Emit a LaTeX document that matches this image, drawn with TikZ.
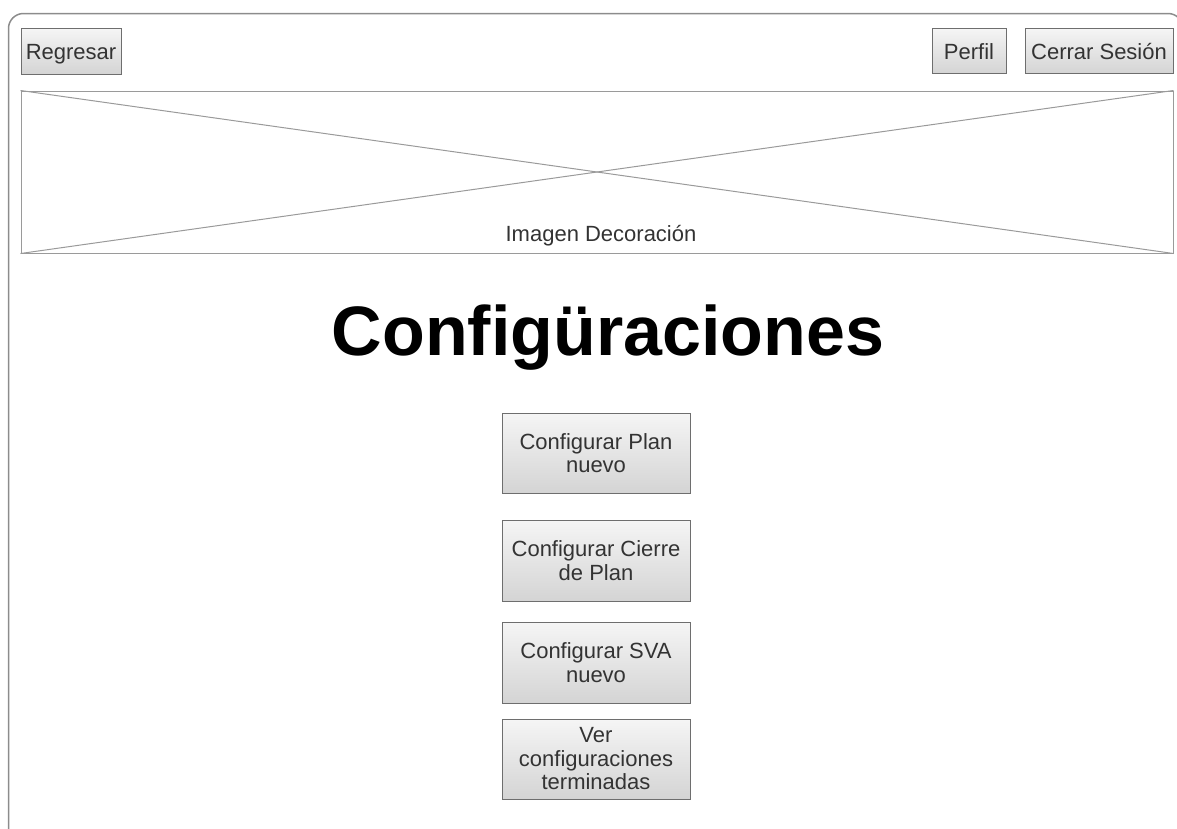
\documentclass[tikz,border=0pt]{standalone}
\usepackage{fontspec}
\setmainfont{Liberation Sans}
\definecolor{framegray}{HTML}{8C8C8C}
\definecolor{btnborder}{HTML}{6E6E6E}
\definecolor{btntext}{HTML}{333333}
\definecolor{diaggray}{HTML}{9A9A9A}
\definecolor{btntop}{HTML}{F5F5F5}
\definecolor{btnbot}{HTML}{D4D4D4}
\tikzset{
  btn/.style={draw=btnborder, line width=1pt, top color=btntop, bottom color=btnbot,
    rectangle, inner sep=0pt, align=center, text=btntext,
    font=\fontsize{22}{23.5}\selectfont},
  topbtn/.style={btn, text height=18pt, text depth=2pt},
  imgbox/.style={draw=diaggray, line width=1pt, rectangle, inner sep=0pt},
  lbl/.style={inner sep=0pt, text=btntext, font=\fontsize{22}{23.5}\selectfont},
}
\begin{document}
\begin{tikzpicture}[x=1pt,y=-1pt]
\useasboundingbox (0,0) rectangle (1177,828);
\clip (0,0) rectangle (1177,828);
\draw[framegray, line width=1.5pt, rounded corners=15pt] (8.5,13.5) rectangle (1183,842);
\node[topbtn, minimum width=100pt, minimum height=46pt] (regresar) at (71,51.5) {Regresar};
\node[topbtn, minimum width=74pt, minimum height=45pt] (perfil) at (969,51) {Perfil};
\node[topbtn, minimum width=148pt, minimum height=45pt] (cerrar) at (1099,51) {Cerrar Sesión};
\node[imgbox, minimum width=1152pt, minimum height=162pt] (img) at (597,172) {};
\draw[diaggray, line width=1pt] (img.north west) -- (img.south east);
\draw[diaggray, line width=1pt] (img.south west) -- (img.north east);
\node[lbl, anchor=base] (imglbl) at (601,241) {Imagen Decoración};
\node[inner sep=0pt, anchor=base, font=\fontsize{70}{80}\selectfont\bfseries] (title) at (608,355) {Configüraciones};
\node[btn, minimum width=188pt, minimum height=80pt] (b1) at (596,453) {Configurar Plan\\nuevo};
\node[btn, minimum width=188pt, minimum height=81pt] (b2) at (596,560.5) {Configurar Cierre\\de Plan};
\node[btn, minimum width=188pt, minimum height=81pt] (b3) at (596,662.5) {Configurar SVA\\nuevo};
\node[btn, minimum width=188pt, minimum height=80pt] (b4) at (596,759) {Ver\\configuraciones\\terminadas};
\end{tikzpicture}
\end{document}
